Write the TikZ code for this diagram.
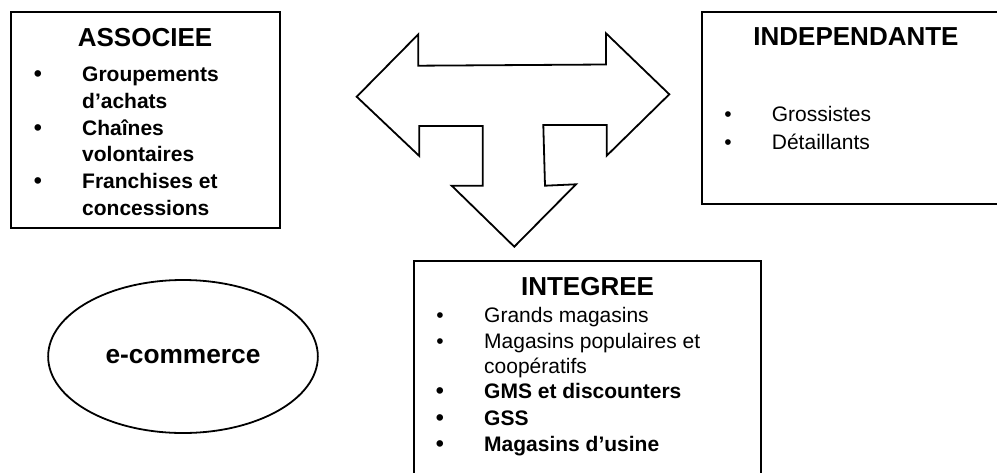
\documentclass[tikz,border=0pt]{standalone}
\usepackage{fontspec}
\setmainfont{Liberation Sans}
\usetikzlibrary{shapes.geometric}
\begin{document}
\begin{tikzpicture}[x=1pt,y=-1pt,
  boxstyle/.style={draw,line width=1.8pt,rectangle,inner sep=0pt},
  titlestyle/.style={font=\fontsize{26}{30}\selectfont\bfseries,anchor=base,inner sep=0pt},
  itembold/.style={font=\fontsize{21}{25}\selectfont\bfseries,anchor=base west,inner sep=0pt},
  itemreg/.style={font=\fontsize{21}{25}\selectfont,anchor=base west,inner sep=0pt},
  bulbold/.style={font=\fontsize{23}{25}\selectfont\bfseries,anchor=base,inner sep=0pt},
  bulreg/.style={font=\fontsize{21}{25}\selectfont,anchor=base,inner sep=0pt}]
\useasboundingbox (0,0) rectangle (997,472);
\clip (0,0) rectangle (997,472);

% ASSOCIEE box
\node[boxstyle,minimum width=269pt,minimum height=216pt] (assoc) at (145.5,120) {};
\node[titlestyle] (assoct) at (145,46.7) {ASSOCIEE};
\node[bulbold] (ab1) at (38,81.7) {\textbullet};
\node[itembold] (a1) at (82,81.7) {Groupements};
\node[itembold] (a2) at (82,108.3) {d’achats};
\node[bulbold] (ab2) at (38,135) {\textbullet};
\node[itembold] (a3) at (82,135) {Chaînes};
\node[itembold] (a4) at (82,161.7) {volontaires};
\node[bulbold] (ab3) at (38,188.3) {\textbullet};
\node[itembold] (a5) at (82,188.3) {Franchises et};
\node[itembold] (a6) at (82,215) {concessions};

% INDEPENDANTE box
\node[boxstyle,minimum width=300pt,minimum height=192.3pt] (indep) at (851.7,107.85) {};
\node[titlestyle] (indept) at (856,45) {INDEPENDANTE};
\node[bulreg] (ib1) at (728,121.7) {\textbullet};
\node[itemreg] (i1) at (771.7,121.7) {Grossistes};
\node[bulreg] (ib2) at (728,149.5) {\textbullet};
\node[itemreg] (i2) at (771.7,149.5) {Détaillants};

% INTEGREE box
\node[boxstyle,minimum width=346.4pt,minimum height=230pt] (integ) at (587.5,375.7) {};
\node[titlestyle] (integt) at (587.5,295) {INTEGREE};
\node[bulreg] (gb1) at (440,322.7) {\textbullet};
\node[itemreg] (g1) at (484,322.7) {Grands magasins};
\node[bulreg] (gb2) at (440,348.5) {\textbullet};
\node[itemreg] (g2) at (484,348.5) {Magasins populaires et};
\node[itemreg] (g3) at (484,373) {coopératifs};
\node[bulbold] (gb3) at (440,398.5) {\textbullet};
\node[itembold] (g4) at (484,398.5) {GMS et discounters};
\node[bulbold] (gb4) at (440,425) {\textbullet};
\node[itembold] (g5) at (484,425) {GSS};
\node[bulbold] (gb5) at (440,451.7) {\textbullet};
\node[itembold] (g6) at (484,451.7) {Magasins d’usine};

% e-commerce ellipse
\node[draw,line width=1.8pt,ellipse,minimum width=269.7pt,minimum height=153pt,inner sep=0pt,
  font=\fontsize{26.3}{30}\selectfont\bfseries] (ecom) at (183,356.5) {e-commerce};

% Three-way arrow
\draw[line width=1.8pt,line join=miter]
  (356.7,96.7) -- (418.3,34.3) -- (418.3,65.7) -- (606,64.5) -- (606,33.3)
  -- (669.3,94.3) -- (606.7,155.7) -- (606.7,125) -- (543.3,125) -- (545,185.7)
  -- (576,184.3) -- (514.3,246.7) -- (451.7,185.7) -- (482.7,185.7) -- (482.7,126)
  -- (419.3,126) -- (419.3,156) -- cycle;
\end{tikzpicture}
\end{document}
